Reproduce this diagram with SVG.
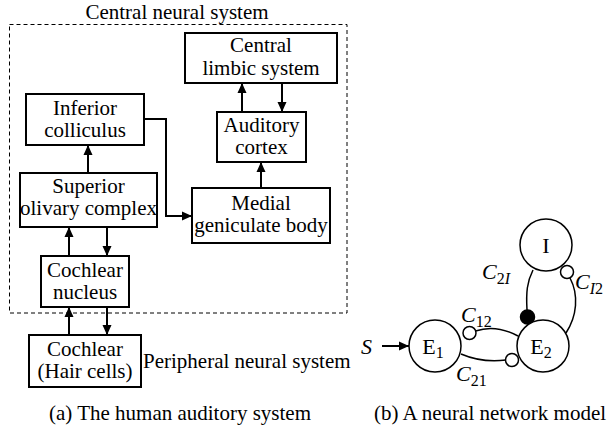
<svg xmlns="http://www.w3.org/2000/svg" width="614" height="427" viewBox="0 0 614 427">
  <defs>
    <style>
      .box { fill: #fff; stroke: #000; stroke-width: 2; }
      .frame { fill: none; stroke: #000; stroke-width: 1; stroke-dasharray: 4 3; }
      .edge { fill: none; stroke: #000; stroke-width: 2; }
      .neuron { fill: #fff; stroke: #000; stroke-width: 1.5; }
      .syn { fill: none; stroke: #000; stroke-width: 1.5; }
      .exc { fill: #fff; stroke: #000; stroke-width: 1.5; }
      .inh { fill: #000; stroke: #000; stroke-width: 1.5; }
    </style>
    <marker id="arrow" viewBox="0 0 10 10" refX="10" refY="5" markerWidth="10" markerHeight="10" markerUnits="userSpaceOnUse" orient="auto">
      <path d="M0,0.5 L10,5 L0,9.5 Z" fill="#000"/>
    </marker>
  </defs>

  <!-- (a) auditory pathway -->
  <rect class="frame" x="9.5" y="24.5" width="337.5" height="288.5"/>
  <text style="font-family:'Liberation Serif';font-size:21px;text-anchor:middle" x="177" y="19">Central neural system</text>

  <g id="limbic">
    <rect class="box" x="185" y="33" width="152" height="50"/>
    <text style="font-family:'Liberation Serif';font-size:21px;text-anchor:middle" x="261" y="52">Central</text>
    <text style="font-family:'Liberation Serif';font-size:21px;text-anchor:middle" x="261" y="75">limbic system</text>
  </g>
  <g id="colliculus">
    <rect class="box" x="26" y="94" width="118" height="51"/>
    <text style="font-family:'Liberation Serif';font-size:21px;text-anchor:middle" x="85" y="115">Inferior</text>
    <text style="font-family:'Liberation Serif';font-size:21px;text-anchor:middle" x="85" y="137">colliculus</text>
  </g>
  <g id="cortex">
    <rect class="box" x="217" y="112" width="89" height="50"/>
    <text style="font-family:'Liberation Serif';font-size:21px;text-anchor:middle" x="261.5" y="132">Auditory</text>
    <text style="font-family:'Liberation Serif';font-size:21px;text-anchor:middle" x="261.5" y="154">cortex</text>
  </g>
  <g id="olivary">
    <rect class="box" x="20" y="173" width="137" height="54"/>
    <text style="font-family:'Liberation Serif';font-size:21px;text-anchor:middle" x="88.5" y="193">Superior</text>
    <text style="font-family:'Liberation Serif';font-size:21px;text-anchor:middle" x="88.5" y="215">olivary complex</text>
  </g>
  <g id="geniculate">
    <rect class="box" x="192" y="188" width="138" height="55"/>
    <text style="font-family:'Liberation Serif';font-size:21px;text-anchor:middle" x="261" y="210">Medial</text>
    <text style="font-family:'Liberation Serif';font-size:21px;text-anchor:middle" x="261" y="232">geniculate body</text>
  </g>
  <g id="nucleus">
    <rect class="box" x="41" y="256" width="88" height="51"/>
    <text style="font-family:'Liberation Serif';font-size:21px;text-anchor:middle" x="85" y="277">Cochlear</text>
    <text style="font-family:'Liberation Serif';font-size:21px;text-anchor:middle" x="85" y="299">nucleus</text>
  </g>
  <g id="cochlea">
    <rect class="box" x="29" y="335" width="112" height="52"/>
    <text style="font-family:'Liberation Serif';font-size:21px;text-anchor:middle" x="85" y="356">Cochlear</text>
    <text style="font-family:'Liberation Serif';font-size:21px;text-anchor:middle" x="85" y="378">(Hair cells)</text>
  </g>
  <text style="font-family:'Liberation Serif';font-size:21px" x="143" y="368">Peripheral neural system</text>

  <g id="pathways">
    <line class="edge" x1="242" y1="112" x2="242" y2="83" marker-end="url(#arrow)"/>
    <line class="edge" x1="282" y1="83" x2="282" y2="112" marker-end="url(#arrow)"/>
    <line class="edge" x1="261" y1="188" x2="261" y2="162" marker-end="url(#arrow)"/>
    <line class="edge" x1="88" y1="173" x2="88" y2="145" marker-end="url(#arrow)"/>
    <polyline class="edge" points="144,119 166,119 166,216 192,216" marker-end="url(#arrow)"/>
    <line class="edge" x1="69" y1="256" x2="69" y2="227" marker-end="url(#arrow)"/>
    <line class="edge" x1="107" y1="227" x2="107" y2="256" marker-end="url(#arrow)"/>
    <line class="edge" x1="69" y1="335" x2="69" y2="307" marker-end="url(#arrow)"/>
    <line class="edge" x1="107" y1="307" x2="107" y2="335" marker-end="url(#arrow)"/>
  </g>

  <text style="font-family:'Liberation Serif';font-size:21px;text-anchor:middle" x="180" y="420">(a) The human auditory system</text>

  <!-- (b) E1 / E2 / I network -->
  <g id="synapses">
    <path class="syn" d="M475.5,331 C490,326 505,329 518,336"/>
    <path class="syn" d="M461,354 C475,360 490,362 506,360"/>
    <path class="syn" d="M533,270 C527,282 526,292 527,310"/>
    <path class="syn" d="M570,278 C579,295 577,316 566,333"/>
    <circle class="exc" cx="469.5" cy="333" r="6.5"/>
    <circle class="exc" cx="512" cy="360" r="6.5"/>
    <circle class="exc" cx="567" cy="272" r="6.5"/>
    <circle class="inh" cx="527.5" cy="317" r="7"/>
    <line class="edge" x1="382" y1="346" x2="409" y2="346" marker-end="url(#arrow)"/>
  </g>

  <g id="E1">
    <circle class="neuron" cx="435" cy="346" r="26"/>
    <text style="font-family:'Liberation Serif';font-size:22px;text-anchor:middle" x="433" y="354">E<tspan style="font-size:16px" dy="4">1</tspan></text>
  </g>
  <g id="E2">
    <circle class="neuron" cx="543" cy="346" r="26"/>
    <text style="font-family:'Liberation Serif';font-size:22px;text-anchor:middle" x="541" y="354">E<tspan style="font-size:16px" dy="4">2</tspan></text>
  </g>
  <g id="I">
    <circle class="neuron" cx="546" cy="245" r="26"/>
    <text style="font-family:'Liberation Serif';font-size:22px;text-anchor:middle" x="546" y="253">I</text>
  </g>

  <text style="font-family:'Liberation Serif';font-size:22px;font-style:italic" x="361" y="354">S</text>
  <text style="font-family:'Liberation Serif';font-size:22px;font-style:italic" x="461" y="322">C<tspan style="font-size:16px;font-style:normal" dy="5">12</tspan></text>
  <text style="font-family:'Liberation Serif';font-size:22px;font-style:italic" x="456" y="381">C<tspan style="font-size:16px;font-style:normal" dy="5">21</tspan></text>
  <text style="font-family:'Liberation Serif';font-size:22px;font-style:italic" x="482" y="279">C<tspan style="font-size:16px;font-style:normal" dy="5">2</tspan><tspan style="font-size:16px">I</tspan></text>
  <text style="font-family:'Liberation Serif';font-size:22px;font-style:italic" x="575" y="289">C<tspan style="font-size:16px" dy="5">I</tspan><tspan style="font-size:16px;font-style:normal">2</tspan></text>

  <text style="font-family:'Liberation Serif';font-size:21px;text-anchor:middle" x="490" y="420">(b) A neural network model</text>
</svg>
